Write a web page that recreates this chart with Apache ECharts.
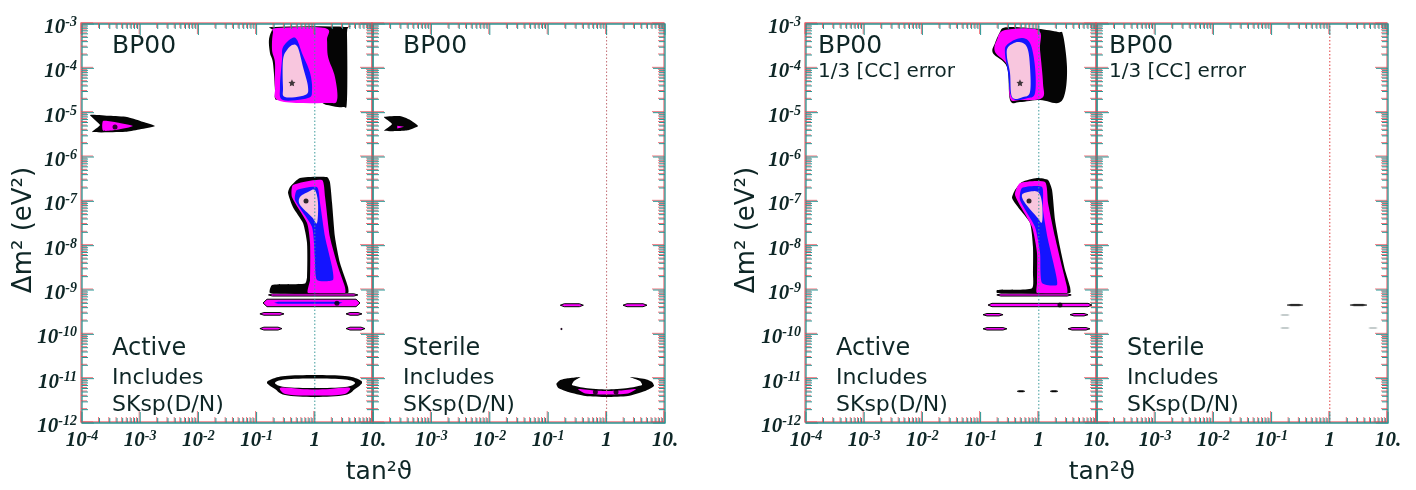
<!DOCTYPE html>
<html><head><meta charset="utf-8">
<script src="https://cdn.jsdelivr.net/npm/echarts@6/dist/echarts.min.js"></script>
<style>html,body{margin:0;padding:0;background:#fff}#c{width:1416px;height:490px}</style>
</head><body><div id="c"></div>
<script>
// ---------------- tick labels ----------------
const xTickLabelsFirst  = ['10^-4','10^-3','10^-2','10^-1','1','10.'];
const xTickLabelsSecond = ['','10^-3','10^-2','10^-1','1','10.'];
const yTickLabels = ['10^-12','10^-11','10^-10','10^-9','10^-8','10^-7','10^-6','10^-5','10^-4','10^-3'];
const xRange = [1e-4, 10];
const yRange = [1e-12, 1e-3];
const maximalMixing = 1;

// ---------------- panel texts ----------------
const panelTitles = ['BP00','BP00','BP00','BP00'];
const panelSubtitles = ['','','1/3 [CC] error','1/3 [CC] error'];
const panelKinds = ['Active','Sterile','Active','Sterile'];
const panelNote1 = 'Includes';
const panelNote2 = 'SKsp(D/N)';
const xTitle = 'tan²ϑ';
const yTitle = 'Δm² (eV²)';

// ---------------- Panel 1: Active, BP00 ----------------
const lmaActive_c3  = [[0.184,7.3e-4],[0.207,8.6e-4],[3.30,8.6e-4],[3.57,6.3e-4],[3.57,1.93e-5],[3.05,1.34e-5],[1.62,1.49e-5],[1.09,1.74e-5],[0.252,1.93e-5],[0.207,2.14e-5],[0.207,3.2e-5],[0.191,1.32e-4],[0.170,2.2e-4],[0.163,4.4e-4]];
const lmaActive_c99 = [[0.191,6.3e-4],[0.224,8.1e-4],[1.50,8.1e-4],[1.62,4.4e-4],[1.69,1.8e-4],[2.22,6.4e-5],[2.41,1.93e-5],[1.62,1.65e-5],[0.252,1.83e-5],[0.207,3.8e-5],[0.207,1.32e-4],[0.184,2.6e-4]];
const lmaActive_c95 = [[0.284,3.0e-4],[0.405,4.8e-4],[0.494,4.4e-4],[0.603,2.2e-4],[0.828,7.9e-5],[0.896,3.2e-5],[0.764,2.14e-5],[0.284,1.93e-5],[0.252,3.8e-5],[0.273,1.54e-4]];
const lmaActive_c90 = [[0.333,2.6e-4],[0.422,3.4e-4],[0.514,2.9e-4],[0.627,1.07e-4],[0.764,3.8e-5],[0.679,2.5e-5],[0.308,2.25e-5],[0.284,3.8e-5],[0.284,1.54e-4]];
const smaActive_c3  = [[1.37e-4,8.9e-6],[3.0e-4,8.5e-6],[5.93e-4,7.98e-6],[1.0e-3,6.5e-6],[1.8e-3,5.0e-6],[1.0e-3,4.2e-6],[5.9e-4,3.7e-6],[1.49e-4,3.66e-6],[2.04e-4,5.27e-6]];
const smaActive_c99 = [[2.3e-4,6.5e-6],[4.0e-4,6.0e-6],[7.5e-4,5.0e-6],[4.0e-4,4.1e-6],[2.3e-4,3.95e-6]];
const lowActive_c3  = [[0.375,2.1e-7],[0.557,3.36e-7],[1.62,3.54e-7],[1.82,2.73e-7],[1.98,9.2e-8],[2.22,1.57e-8],[2.71,4.06e-9],[3.72,1.17e-9],[3.72,8.55e-10],[0.170,8.55e-10],[0.184,1.29e-9],[0.679,1.4e-9],[0.735,1.96e-9],[0.735,1.15e-8],[0.627,3.24e-8],[0.422,7.4e-8],[0.347,1.54e-7]];
const lowActive_c99 = [[0.422,2.33e-7],[1.33,3.03e-7],[1.50,1.25e-7],[1.82,1.57e-8],[2.51,3.3e-9],[3.30,1.17e-9],[3.30,8.55e-10],[0.764,8.55e-10],[0.828,1.68e-9],[0.828,1.15e-8],[0.735,3.24e-8],[0.405,1.25e-7]];
const lowActive_c95 = [[0.494,1.8e-7],[1.09,2.1e-7],[1.23,9.2e-8],[1.50,1.57e-8],[1.98,3.3e-9],[2.05,1.68e-9],[1.09,1.68e-9],[1.0,5.5e-9],[0.896,2.64e-8],[0.457,1.07e-7]];
const lowActive_c90 = [[0.557,1.25e-7],[0.764,1.62e-7],[1.0,1.8e-7],[1.135,9.2e-8],[1.09,3.24e-8],[0.896,4.4e-8],[0.557,8.3e-8]];
const vacActive_bands = [[0.16,5.5,7.3e-10,8.2e-10],[0.129,5.98,4.2e-10,6.2e-10],[0.114,0.296,2.7e-10,3.1e-10],[3.44,6.47,2.7e-10,3.1e-10],[0.114,0.273,1.25e-10,1.45e-10],[3.44,7.29,1.25e-10,1.45e-10]];
const vacActive_blue = [[0.2,3.0,4.9e-10,5.4e-10]];
const valActive_c3  = [[0.151,7.98e-12],[0.184,9.8e-12],[0.308,1.15e-11],[1.0,1.21e-11],[3.30,1.15e-11],[5.52,9.8e-12],[6.47,7.98e-12],[4.91,5.84e-12],[3.30,4.28e-12],[1.0,3.86e-12],[0.308,4.28e-12],[0.207,5.84e-12]];
const valActive_c99 = [[0.252,6.15e-12],[0.557,5.84e-12],[1.0,5.69e-12],[1.82,5.84e-12],[4.03,6.15e-12],[3.30,4.5e-12],[1.0,4.17e-12],[0.308,4.5e-12]];
const valActive_in  = [[0.207,7.98e-12],[0.308,9.6e-12],[1.0,1.01e-11],[3.30,9.6e-12],[4.91,7.98e-12],[3.30,6.48e-12],[1.0,6.15e-12],[0.308,6.48e-12]];
const bestActive_star = [[0.405,4.7e-5]];
const bestActive_dots = [[0.706,1.02e-7],[3.69e-4,4.75e-6],[2.4,5.0e-10]];

// ---------------- Panel 2: Sterile, BP00 ----------------
const smaSterile_c3  = [[1.54e-4,7.98e-6],[2.9e-4,8.4e-6],[4.2e-4,7.0e-6],[5.9e-4,5.0e-6],[4.0e-4,4.0e-6],[2.9e-4,3.86e-6],[1.54e-4,3.9e-6],[2.12e-4,5.55e-6]];
const smaSterile_c99 = [[2.6e-4,5.1e-6],[3.4e-4,4.8e-6],[2.6e-4,4.4e-6]];
const vacSterile_bands = [[0.161,0.400,4.2e-10,4.9e-10],[1.91,4.92,4.2e-10,4.9e-10],[0.163,0.174,1.28e-10,1.36e-10]];
const valSterile_c3  = [[0.138,7.57e-12],[0.161,9.3e-12],[0.236,1.03e-11],[0.356,1.09e-11],[0.277,8.85e-12],[0.256,7.18e-12],[0.433,6.15e-12],[1.0,5.69e-12],[2.32,6.15e-12],[4.04,7.18e-12],[3.73,8.85e-12],[2.52,1.09e-11],[4.55,9.8e-12],[5.98,8.4e-12],[6.48,6.82e-12],[4.55,5.26e-12],[2.32,4.06e-12],[1.0,3.86e-12],[0.433,4.06e-12],[0.221,5.0e-12],[0.149,6.15e-12]];
const valSterile_c99 = [[0.324,5.84e-12],[0.643,5.41e-12],[1.0,5.26e-12],[1.70,5.41e-12],[3.19,5.84e-12],[2.32,4.62e-12],[1.0,4.39e-12],[0.433,4.62e-12]];
const bestSterile_dots = [[0.643,5.0e-12],[1.45,5.0e-12]];

// ---------------- Panel 3: Active, BP00, 1/3 [CC] error ----------------
const lmaActiveCC_c3  = [[0.215,6.6e-4],[0.243,8.1e-4],[0.361,8.56e-4],[0.968,7.8e-4],[2.14,6.6e-4],[2.61,5.6e-4],[3.05,1.07e-4],[2.82,2.78e-5],[2.14,1.65e-5],[1.05,1.93e-5],[0.475,1.74e-5],[0.320,1.93e-5],[0.284,1.07e-4],[0.163,2.2e-4],[0.177,3.73e-4]];
const lmaActiveCC_c99 = [[0.191,4.4e-4],[0.262,7.3e-4],[0.968,7.3e-4],[1.05,2.6e-4],[1.18,4.7e-5],[1.135,2.14e-5],[0.475,1.93e-5],[0.320,2.14e-5],[0.296,1.07e-4],[0.177,2.34e-4]];
const lmaActiveCC_c95 = [[0.262,2.2e-4],[0.284,3.4e-4],[0.475,4.8e-4],[0.706,3.73e-4],[0.861,1.07e-4],[0.861,2.78e-5],[0.652,2.14e-5],[0.347,2.14e-5],[0.296,7.9e-5]];
const lmaActiveCC_c90 = [[0.284,1.8e-4],[0.296,3.0e-4],[0.440,3.93e-4],[0.627,3.0e-4],[0.706,1.07e-4],[0.706,2.92e-5],[0.536,2.25e-5],[0.347,2.25e-5],[0.320,7.9e-5]];
const lowActiveCC_c3  = [[0.390,1.8e-7],[0.514,2.73e-7],[0.931,3.36e-7],[1.44,3.03e-7],[1.69,1.8e-7],[1.90,3.79e-8],[2.31,9.3e-9],[2.82,2.83e-9],[3.44,1.17e-9],[3.44,8.55e-10],[0.191,8.55e-10],[0.191,1.0e-9],[0.764,1.1e-9],[0.794,2.42e-9],[0.794,9.3e-9],[0.706,3.24e-8],[0.440,7.4e-8],[0.347,1.19e-7]];
const lowActiveCC_c99 = [[0.390,1.39e-7],[0.475,2.59e-7],[1.28,2.73e-7],[1.44,9.2e-8],[1.90,1.57e-8],[2.51,3.3e-9],[3.05,1.17e-9],[3.05,8.55e-10],[0.931,8.55e-10],[0.931,1.44e-9],[0.931,6.83e-9],[0.764,2.64e-8]];
const lowActiveCC_c95 = [[0.475,1.07e-7],[0.514,2.0e-7],[1.135,2.1e-7],[1.18,6.37e-8],[1.44,1.34e-8],[1.90,2.83e-9],[2.05,1.29e-9],[1.135,1.44e-9],[1.05,6.83e-9],[0.861,2.64e-8]];
const lowActiveCC_c90 = [[0.514,1.39e-7],[0.652,1.62e-7],[0.968,1.62e-7],[1.135,9.2e-8],[1.135,3.41e-8],[0.931,4.4e-8],[0.579,9.2e-8]];
const vacActiveCC_bands = [[0.19,3.6,7.3e-10,8.2e-10],[0.134,8.2,4.2e-10,5.0e-10],[0.110,0.243,2.6e-10,2.95e-10],[3.44,7.0,2.6e-10,2.95e-10],[0.110,0.284,1.25e-10,1.42e-10],[3.18,7.58,1.25e-10,1.42e-10]];
const valActiveCC_dashes = [[0.422,0.579,5.0e-12,5.4e-12],[1.56,2.14,5.0e-12,5.4e-12]];
const bestActiveCC_star = [[0.475,4.7e-5]];
const bestActiveCC_dots = [[0.679,1.02e-7],[2.31,4.6e-10]];

// ---------------- Panel 4: Sterile, BP00, 1/3 [CC] error ----------------
const vacSterileCC_lines = [[0.184,0.347,4.4e-10,4.75e-10],[2.22,4.36,4.4e-10,4.75e-10]];
const vacSterileCC_faint = [[0.139,0.207,2.65e-10,2.8e-10],[0.139,0.207,1.35e-10,1.43e-10],[4.53,6.73,1.35e-10,1.43e-10]];

// ---------------- styles ----------------
const BLACK='#050505', MAG='#ff00ff', BLUE='#1414ff', PINK='#f8c6de', WHITE='#ffffff';
const AXC='#2b9593', FRINGE='rgba(235,70,80,0.75)', TXT='#0e2626';
const layout = [{left:82,width:291},{left:373,width:292},{left:806,width:291},{left:1097,width:291}];
const gTop=24, gHeight=399;
const vlineColors=['#3d9c9c','#c06a72','#3d9c9c','#e03c3c'];
const CR='cr';

function P(pts, fill, smooth){ return {pts, fill, smooth: smooth||0}; }
function B(list, fill, stroke, lw){ return list.map(b => ({band:b, fill, stroke, lw})); }

// closed Catmull-Rom resampling in pixel space (rendering only)
function catmull(px){
  const n=px.length, out=[], S=8;
  for(let i=0;i<n;i++){
    const p0=px[(i-1+n)%n], p1=px[i], p2=px[(i+1)%n], p3=px[(i+2)%n];
    for(let s=0;s<S;s++){
      const t=s/S, t2=t*t, t3=t2*t;
      const f=(a,b,c,d)=>0.5*((2*b)+(-a+c)*t+(2*a-5*b+4*c-d)*t2+(-a+3*b-3*c+d)*t3);
      out.push([f(p0[0],p1[0],p2[0],p3[0]), f(p0[1],p1[1],p2[1],p3[1])]);
    }
  }
  return out;
}

const panelShapes = [
  [P(lmaActive_c3,BLACK,CR),P(lmaActive_c99,MAG,CR),P(lmaActive_c95,BLUE,CR),P(lmaActive_c90,PINK,CR),
   P(smaActive_c3,BLACK,0.15),P(smaActive_c99,MAG,0.2),
   P(lowActive_c3,BLACK,0.2),P(lowActive_c99,MAG,0.2),P(lowActive_c95,BLUE,0.2),P(lowActive_c90,PINK,CR),
   ...B(vacActive_bands,MAG,BLACK,1),...B(vacActive_blue,BLUE,null,0),
   P(valActive_c3,BLACK,CR),P(valActive_c99,MAG,0.35),P(valActive_in,WHITE,CR)],
  [P(smaSterile_c3,BLACK,0.15),P(smaSterile_c99,MAG,0),
   ...B(vacSterile_bands,MAG,BLACK,1),
   P(valSterile_c3,BLACK,0.2),P(valSterile_c99,MAG,0.2)],
  [P(lmaActiveCC_c3,BLACK,CR),P(lmaActiveCC_c99,MAG,CR),P(lmaActiveCC_c95,BLUE,CR),P(lmaActiveCC_c90,PINK,CR),
   P(lowActiveCC_c3,BLACK,0.2),P(lowActiveCC_c99,MAG,0.2),P(lowActiveCC_c95,BLUE,0.2),P(lowActiveCC_c90,PINK,CR),
   ...B(vacActiveCC_bands,MAG,BLACK,1),...B(valActiveCC_dashes,BLACK,BLACK,0.5)],
  [...B(vacSterileCC_lines,BLACK,BLACK,0.5),...B(vacSterileCC_faint,'#8a9a9a',null,0)]
];
const panelStars = [bestActive_star, [], bestActiveCC_star, []];
const panelDots = [bestActive_dots, bestSterile_dots, bestActiveCC_dots, []];
const panelXLabels = [xTickLabelsFirst, xTickLabelsSecond, xTickLabelsFirst, xTickLabelsSecond];

function richLabel(s){
  if(!s) return '';
  const m = s.split('^');
  return m.length>1 ? '{b|'+m[0]+'}{e|'+m[1]+'}' : '{b|'+s+'}';
}
const SERIF='"Liberation Serif", "Times New Roman", serif';
const labelRich = {
  b:{fontFamily:SERIF,fontStyle:'italic',fontWeight:'bold',fontSize:21,lineHeight:17,padding:[7,0,0,0],color:TXT},
  e:{fontFamily:SERIF,fontStyle:'italic',fontWeight:'bold',fontSize:14,lineHeight:13,verticalAlign:'top',color:TXT}
};

function contourSeries(gi){
  const shapes = panelShapes[gi];
  return {type:'custom', xAxisIndex:gi, yAxisIndex:gi, z:2, silent:true, clip:false, animation:false,
    data: shapes.map(s => s.pts ? s.pts[0] : [s.band[0], s.band[2]]),
    renderItem(params, api){
      const s = shapes[params.dataIndex];
      if (s.pts) {
        let px = s.pts.map(p=>api.coord(p));
        let sm = s.smooth;
        if (sm === CR) { px = catmull(px); sm = 0; }
        return {type:'polygon', shape:{points:px, smooth:sm}, style:{fill:s.fill}};
      }
      const [x1,x2,y1,y2] = s.band;
      const a = api.coord([x1,y2]), b = api.coord([x2,y1]);
      const l=a[0], r=b[0], t=a[1], bt=b[1], m=(t+bt)/2, h=Math.min(4,(r-l)/4);
      return {type:'polygon', shape:{points:[[l,m],[l+h,t],[r-h,t],[r,m],[r-h,bt],[l+h,bt]]},
        style:{fill:s.fill, stroke:s.stroke||null, lineWidth:s.stroke?s.lw:0}};
    }};
}

function tickSeries(gi){
  return {type:'custom', xAxisIndex:gi, yAxisIndex:gi, z:6, silent:true, clip:false, animation:false,
    data:[[1,1e-6]],
    renderItem(params, api){
      const ch=[];
      const bl=api.coord([xRange[0],yRange[0]]), tr=api.coord([xRange[1],yRange[1]]);
      const st={stroke:AXC,lineWidth:1,shadowColor:FRINGE,shadowOffsetX:-1,shadowOffsetY:-1,shadowBlur:0};
      const ln=(x1,y1,x2,y2)=>ch.push({type:'line',shape:{x1,y1,x2,y2},style:st});
      for(let d=-4; d<=1; d++) for(let k=1;k<=9;k++){
        const v=k*Math.pow(10,d); if(v>xRange[1]*1.0001) continue;
        const px=api.coord([v,yRange[0]])[0]; const L=k===1?11:5;
        ln(px,bl[1],px,bl[1]-L); ln(px,tr[1],px,tr[1]+L);
      }
      for(let d=-12; d<=-3; d++) for(let k=1;k<=9;k++){
        const v=k*Math.pow(10,d); if(v>yRange[1]*1.0001) continue;
        const py=api.coord([xRange[0],v])[1]; const L=k===1?12:6;
        ln(bl[0],py,bl[0]+L,py); ln(tr[0],py,tr[0]-L,py);
      }
      return {type:'group',children:ch};
    }};
}

const grids=[], xAxes=[], yAxes=[], series=[];
for(let i=0;i<4;i++){
  grids.push({left:layout[i].left, width:layout[i].width, top:gTop, height:gHeight, show:true,
    borderColor:AXC, borderWidth:1.3, backgroundColor:'rgba(0,0,0,0)', shadowColor:FRINGE, shadowOffsetX:-1, shadowOffsetY:-1});
  const xl = panelXLabels[i];
  xAxes.push({gridIndex:i, type:'log', logBase:10, min:xRange[0], max:xRange[1], splitNumber:10,
    axisLine:{show:false}, axisTick:{show:false}, splitLine:{show:false},
    axisLabel:{margin:6, showMinLabel:true, showMaxLabel:true, hideOverlap:false,
      formatter:v=>richLabel(xl[Math.round(Math.log10(v))+4]), rich:labelRich}});
  yAxes.push({gridIndex:i, type:'log', logBase:10, min:yRange[0], max:yRange[1], splitNumber:10,
    axisLine:{show:false}, axisTick:{show:false}, splitLine:{show:false},
    axisLabel:{show:(i===0||i===2), margin:5, showMinLabel:true, showMaxLabel:true, hideOverlap:false,
      formatter:v=>richLabel(yTickLabels[Math.round(Math.log10(v))+12]), rich:labelRich}});
  series.push(contourSeries(i));
  series.push({type:'line', xAxisIndex:i, yAxisIndex:i, z:3, silent:true, symbol:'none', animation:false,
    data:[[maximalMixing,yRange[0]],[maximalMixing,yRange[1]]],
    lineStyle:{color:vlineColors[i], width:1, type:[1.5,2]}});
  if(panelStars[i].length) series.push({type:'scatter', xAxisIndex:i, yAxisIndex:i, z:4, silent:true, animation:false,
    data:panelStars[i], symbol:'path://M0,-10 L2.9,-4 9.5,-3.1 4.7,1.5 5.9,8.1 0,5 -5.9,8.1 -4.7,1.5 -9.5,-3.1 -2.9,-4Z',
    symbolSize:7, itemStyle:{color:'#111'}});
  if(panelDots[i].length) series.push({type:'scatter', xAxisIndex:i, yAxisIndex:i, z:4, silent:true, animation:false,
    data:panelDots[i], symbol:'circle', symbolSize:5, itemStyle:{color:'#000'}});
  series.push(tickSeries(i));
}

const SANS='"DejaVu Sans", sans-serif';
const graphics=[];
const textOffsets=[30,30,12,12];
for(let i=0;i<4;i++){
  const x = layout[i].left + textOffsets[i];
  const kx = layout[i].left + 30;
  graphics.push({type:'text', left:x, top:34, style:{text:panelTitles[i], font:'25px '+SANS, fill:TXT}});
  if(panelSubtitles[i]) graphics.push({type:'text', left:x, top:62, style:{text:panelSubtitles[i], font:'20px '+SANS, fill:TXT}});
  graphics.push({type:'text', left:kx, top:337, style:{text:panelKinds[i], font:'24px '+SANS, fill:TXT}});
  graphics.push({type:'text', left:kx, top:367, style:{text:panelNote1, font:'22px '+SANS, fill:TXT}});
  graphics.push({type:'text', left:kx, top:394, style:{text:panelNote2, font:'22px '+SANS, fill:TXT}});
}
graphics.push({type:'text', x:379, y:472, style:{text:xTitle, font:'25px '+SANS, fill:TXT, align:'center', verticalAlign:'middle'}});
graphics.push({type:'text', x:1102, y:472, style:{text:xTitle, font:'25px '+SANS, fill:TXT, align:'center', verticalAlign:'middle'}});
graphics.push({type:'text', x:24, y:230, rotation:Math.PI/2, style:{text:yTitle, font:'26px '+SANS, fill:TXT, align:'center', verticalAlign:'middle'}});
graphics.push({type:'text', x:747, y:230, rotation:Math.PI/2, style:{text:yTitle, font:'26px '+SANS, fill:TXT, align:'center', verticalAlign:'middle'}});

const chart = echarts.init(document.getElementById('c'), null, {renderer:'canvas'});
chart.setOption({animation:false, backgroundColor:'#fff', grid:grids, xAxis:xAxes, yAxis:yAxes, series, graphic:graphics});
</script></body></html>
